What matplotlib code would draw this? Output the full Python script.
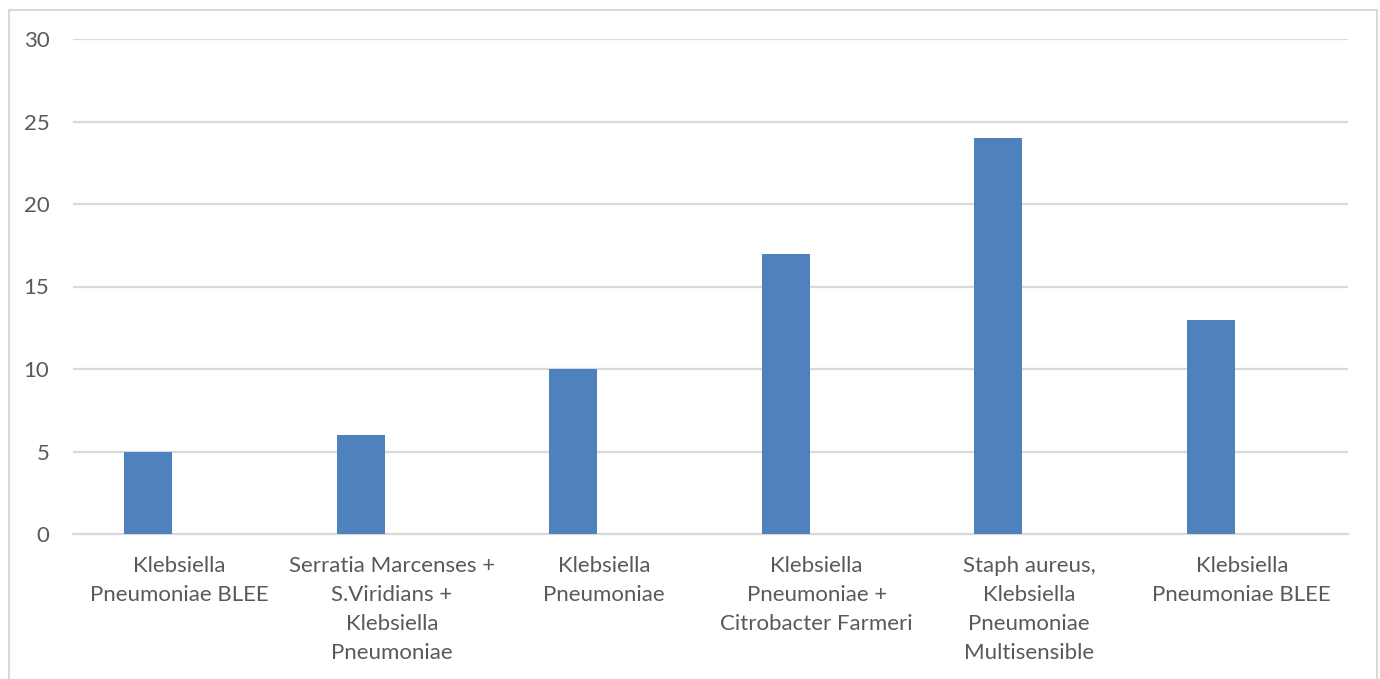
import numpy as np
import matplotlib.pyplot as plt
from matplotlib.patches import Rectangle

categories = [
    "Klebsiella\nPneumoniae BLEE",
    "Serratia Marcenses +\nS.Viridians +\nKlebsiella\nPneumoniae",
    "Klebsiella\nPneumoniae",
    "Klebsiella\nPneumoniae +\nCitrobacter Farmeri",
    "Staph aureus,\nKlebsiella\nPneumoniae\nMultisensible",
    "Klebsiella\nPneumoniae BLEE",
]
values = [5, 6, 10, 17, 24, 13]
yticks = [0, 5, 10, 15, 20, 25, 30]

plt.rcParams['font.family'] = ['Lato', 'DejaVu Sans']

W, H = 1380, 679
fig = plt.figure(figsize=(W / 100, H / 100), dpi=100)
ax = fig.add_axes([73 / W, 1 - 534 / H, (1348 - 73) / W, (534 - 39) / H])

# chart border (bottom edge runs off the image)
fig.patches.append(Rectangle((9 / W, -0.05), (1377 - 9) / W, 1.05 - 10 / H,
                             transform=fig.transFigure, fill=False,
                             edgecolor='#d9d9d9', linewidth=1.5))

x = np.arange(len(categories))
ax.bar(x - 0.146, values, width=0.226, color='#4f81bd', zorder=3)

ax.set_xlim(-0.5, len(categories) - 0.5)
ax.set_ylim(0, 30)
ax.set_yticks(yticks)
ax.set_xticks(x)
ax.set_xticklabels(categories, linespacing=1.55)
ax.grid(axis='y', color='#d9d9d9', linewidth=1.6, zorder=0)
for s in ['top', 'right', 'left']:
    ax.spines[s].set_visible(False)
ax.spines['bottom'].set_color('#d9d9d9')
ax.spines['bottom'].set_linewidth(1.6)
ax.tick_params(axis='both', length=0, labelsize=16, labelcolor='#595959')
ax.tick_params(axis='y', pad=17)
ax.tick_params(axis='x', pad=16)

plt.savefig("out.png", dpi=100)
